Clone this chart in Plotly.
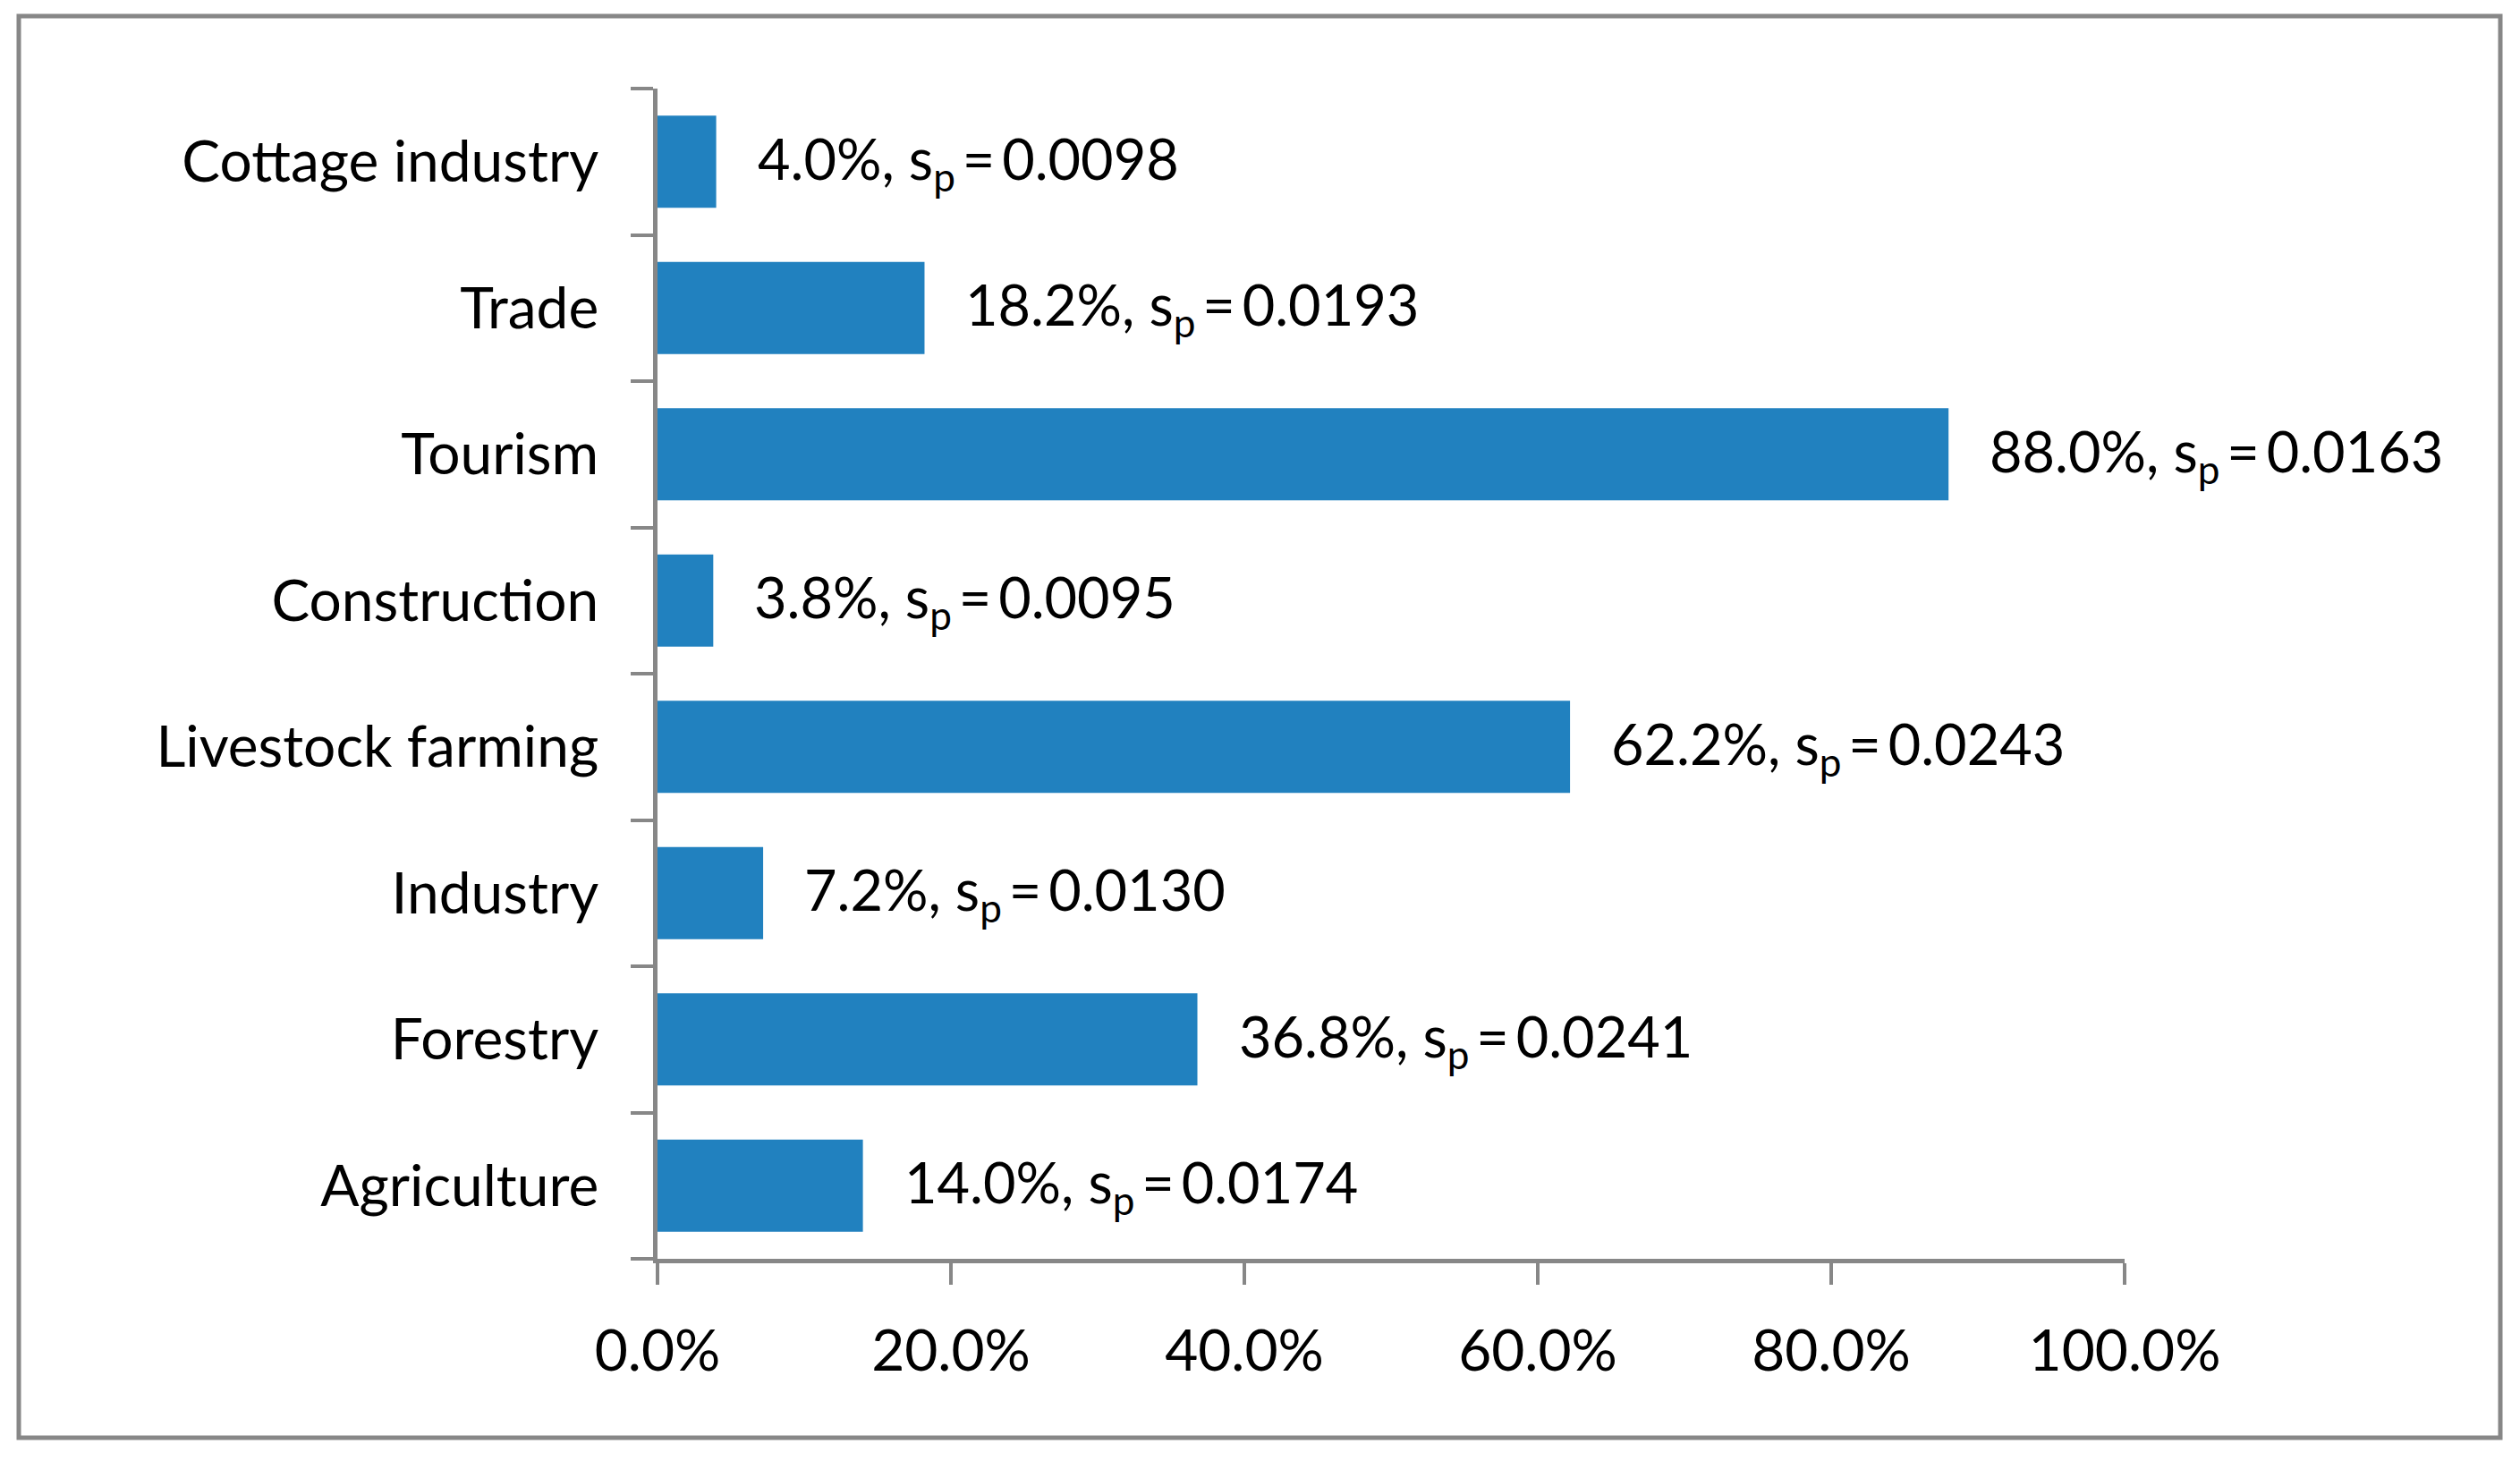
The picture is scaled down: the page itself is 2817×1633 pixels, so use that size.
import plotly.graph_objects as go

categories = ["Agriculture", "Forestry", "Industry", "Livestock farming",
              "Construction", "Tourism", "Trade", "Cottage industry"]
shares = [14.0, 36.8, 7.2, 62.2, 3.8, 88.0, 18.2, 4.0]
sp_values = [0.0174, 0.0241, 0.0130, 0.0243, 0.0095, 0.0163, 0.0193, 0.0098]
x_ticks = [0, 0.2, 0.4, 0.6, 0.8, 1.0]

# page body has an 8px margin; work in figure coordinates
OFF = 8
W, H = 2817 - OFF, 1633 - OFF
PX0, PX1 = 735 - OFF, 2375 - OFF
PY0, PY1 = 99 - OFF, 1407 - OFF
L, R, T, B = PX0, W - PX1, PY0, H - PY1
FONT = "Lato, Carlito, Calibri, sans-serif"
GRAY = "#878787"

fracs = [v / 100 for v in shares]

fig = go.Figure()
fig.add_trace(go.Bar(
    x=fracs, y=categories, orientation="h",
    marker=dict(color="#2181BF", line=dict(width=0)),
    hoverinfo="skip",
))

for f, c, sp in zip(fracs, categories, sp_values):
    fig.add_annotation(
        x=f, y=c, xref="x", yref="y",
        text=f"{f*100:.1f}%, s<sub>p</sub>\u2009=\u2009{sp:.4f}",
        showarrow=False, xanchor="left", yanchor="middle",
        xshift=44, font=dict(family=FONT, size=63, color="#000000"),
    )

pw = PX1 - PX0
ph = PY1 - PY0
x0 = (21 - OFF - PX0) / pw
x1 = (2795 - OFF - PX0) / pw
y1 = (PY1 - (18 - OFF)) / ph
y0 = (PY1 - (1607 - OFF)) / ph
fig.add_shape(type="rect", xref="paper", yref="paper",
              x0=x0, x1=x1, y0=y0, y1=y1,
              line=dict(color=GRAY, width=5), fillcolor="rgba(0,0,0,0)",
              layer="below")

fig.update_layout(
    width=W, height=H, autosize=False,
    margin=dict(l=L, r=R, t=T, b=B, pad=0),
    paper_bgcolor="white", plot_bgcolor="white",
    bargap=0.37, showlegend=False,
    font=dict(family=FONT, size=64, color="#000000"),
    xaxis=dict(
        range=[0, 1], tickvals=x_ticks, tickformat=".1%",
        showgrid=False, zeroline=False,
        showline=True, linecolor=GRAY, linewidth=5,
        ticks="outside", ticklen=24, tickwidth=4, tickcolor=GRAY,
        ticklabelstandoff=19,
        tickfont=dict(family=FONT, size=64, color="#000000"),
        fixedrange=True,
    ),
    yaxis=dict(
        type="category", categoryorder="array", categoryarray=categories,
        showgrid=False, zeroline=False,
        showline=True, linecolor=GRAY, linewidth=5,
        ticks="outside", ticklen=25, tickwidth=4, tickcolor=GRAY,
        tickson="boundaries", ticklabelstandoff=48,
        tickfont=dict(family=FONT, size=64, color="#000000"),
        fixedrange=True,
    ),
)

fig.write_html("out.html")
